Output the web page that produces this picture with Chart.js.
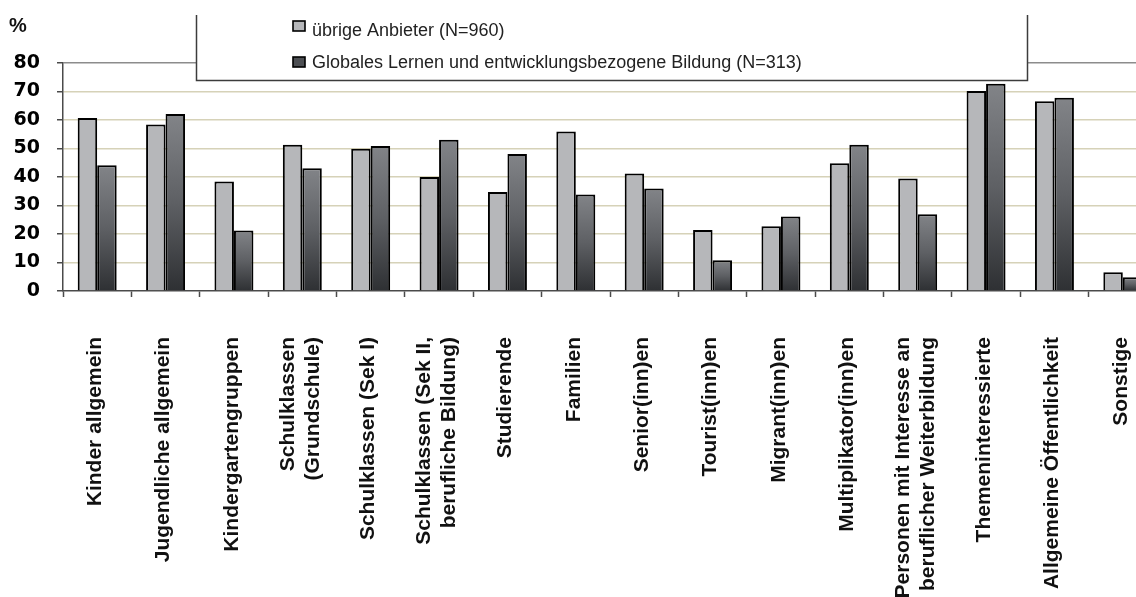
<!DOCTYPE html>
<html lang="de">
<head>
<meta charset="utf-8">
<title>Zielgruppen</title>
<script src="https://cdn.jsdelivr.net/npm/chart.js@4/dist/chart.umd.min.js"></script>
<style>
  html, body { margin: 0; padding: 0; background: #fff; overflow: hidden; }
  #wrap { width: 1160px; height: 597px; }
</style>
</head>
<body>
<div id="wrap"><canvas id="c" width="1160" height="597"></canvas></div>
<script>
// Zielgruppen der Bildungsangebote, Anteile in %
const categories = [
  'Kinder allgemein',
  'Jugendliche allgemein',
  'Kindergartengruppen',
  ['Schulklassen', '(Grundschule)'],
  'Schulklassen (Sek I)',
  ['Schulklassen (Sek II,', 'berufliche Bildung)'],
  'Studierende',
  'Familien',
  'Senior(inn)en',
  'Tourist(inn)en',
  'Migrant(inn)en',
  'Multiplikator(inn)en',
  ['Personen mit Interesse an', 'beruflicher Weiterbildung'],
  'Themeninteressierte',
  'Allgemeine Öffentlichkeit',
  'Sonstige'
];
const seriesNames = [
  'übrige Anbieter (N=960)',
  'Globales Lernen und entwicklungsbezogene Bildung (N=313)'
];
const uebrigeAnbieter = [60.7, 58.4, 38.4, 51.3, 49.9, 40.0, 34.7, 56.0, 41.2, 21.4, 22.7, 44.8, 39.5, 70.2, 66.6, 6.6];
const globalesLernen  = [44.1, 62.1, 21.2, 43.1, 50.9, 53.1, 48.1, 33.9, 36.0, 10.8, 26.1, 51.3, 26.9, 72.7, 67.8, 4.8];
const yTicks = [0, 10, 20, 30, 40, 50, 60, 70, 80];

const FONT = '"Liberation Sans", Arial, sans-serif';
const LIGHT = '#b6b7ba';

// vertical shading of the dark bars, from the bar top down to the baseline
function darkFill(ctx) {
  const chart = ctx.chart;
  if (!chart.chartArea || ctx.type !== 'data') return '#55575b';
  const y = chart.scales.y;
  const top = y.getPixelForValue(ctx.raw);
  const bottom = y.getPixelForValue(0);
  const g = chart.ctx.createLinearGradient(0, top, 0, bottom + 0.01);
  g.addColorStop(0, '#828488');
  g.addColorStop(0.5, '#5e6064');
  g.addColorStop(1, '#2e3033');
  return g;
}

// category labels, legend box and unit label
const decorations = {
  id: 'decorations',
  afterDraw(chart) {
    const ctx = chart.ctx;
    const xs = chart.scales.x;
    ctx.save();

    // rotated category labels, each block centred on its category
    ctx.font = 'bold 21px ' + FONT;
    ctx.fillStyle = '#111';
    ctx.textAlign = 'right';
    ctx.textBaseline = 'middle';
    const lh = 25;
    categories.forEach((lab, i) => {
      const lines = Array.isArray(lab) ? lab : [lab];
      const cx = xs.getPixelForValue(i);
      lines.forEach((t, j) => {
        const px = cx - 2 + (j - (lines.length - 1) / 2) * lh;
        ctx.save();
        ctx.translate(px, 337);
        ctx.rotate(-Math.PI / 2);
        ctx.fillText(t, 0, 0);
        ctx.restore();
      });
    });

    // unit label
    ctx.textAlign = 'left';
    ctx.textBaseline = 'alphabetic';
    ctx.font = 'bold 20px ' + FONT;
    ctx.fillText('%', 9, 32);

    // legend box
    ctx.fillStyle = '#fff';
    ctx.fillRect(196, 0, 832, 80);
    ctx.strokeStyle = '#3c3c3c';
    ctx.lineWidth = 1.5;
    ctx.beginPath();
    ctx.moveTo(196.5, 15);
    ctx.lineTo(196.5, 80.5);
    ctx.lineTo(1027.5, 80.5);
    ctx.lineTo(1027.5, 15);
    ctx.stroke();

    const swatches = [LIGHT, '#4d4f53'];
    const rowY = [21, 57];
    const baseY = [36, 68];
    ctx.font = '18px ' + FONT;
    seriesNames.forEach((name, k) => {
      ctx.fillStyle = swatches[k];
      ctx.fillRect(293, rowY[k], 12, 10);
      ctx.strokeStyle = '#000';
      ctx.lineWidth = 1.6;
      ctx.strokeRect(293, rowY[k], 12, 10);
      ctx.fillStyle = '#222';
      ctx.fillText(name, 312, baseY[k]);
    });
    ctx.restore();
  }
};

new Chart(document.getElementById('c'), {
  type: 'bar',
  data: {
    labels: categories.map(c => Array.isArray(c) ? c.join(' ') : c),
    datasets: [
      {
        label: seriesNames[0],
        data: uebrigeAnbieter,
        backgroundColor: LIGHT,
        borderColor: '#000',
        borderWidth: 2
      },
      {
        label: seriesNames[1],
        data: globalesLernen,
        backgroundColor: darkFill,
        borderColor: '#000',
        borderWidth: 2
      }
    ]
  },
  options: {
    responsive: false,
    animation: false,
    devicePixelRatio: 1,
    layout: { padding: { top: 63, right: 3, left: 0, bottom: 0 } },
    datasets: { bar: { categoryPercentage: 0.57, barPercentage: 1.0 } },
    plugins: {
      legend: { display: false },
      tooltip: { enabled: false },
      title: { display: false }
    },
    scales: {
      x: {
        offset: true,
        grid: {
          display: true,
          offset: true,
          drawOnChartArea: false,
          drawTicks: true,
          tickLength: 6,
          tickColor: '#4a4a4a',
          tickWidth: 1.5
        },
        border: { display: true, color: '#4a4a4a', width: 1.5 },
        ticks: { display: false },
        afterFit(scale) { scale.height = 306; }
      },
      y: {
        min: 0,
        max: 80,
        afterBuildTicks(scale) { scale.ticks = yTicks.map(v => ({ value: v })); },
        grid: {
          color(ctx) {
            if (ctx.type !== 'tick') return '#d6d2b8';
            if (ctx.tick.value === 0) return 'rgba(0,0,0,0)';
            if (ctx.tick.value === 80) return '#8c8c8c';
            return '#d6d2b8';
          },
          lineWidth: 1.5,
          tickLength: 6,
          tickColor: '#4a4a4a',
          tickWidth: 1.5
        },
        border: { display: true, color: '#4a4a4a', width: 1.5 },
        ticks: {
          padding: 17,
          color: '#000',
          font: { family: '"DejaVu Sans", sans-serif', weight: 'bold', size: 19 },
          callback: v => String(v)
        },
        afterFit(scale) { scale.width = 63; }
      }
    }
  },
  plugins: [decorations]
});
</script>
</body>
</html>
